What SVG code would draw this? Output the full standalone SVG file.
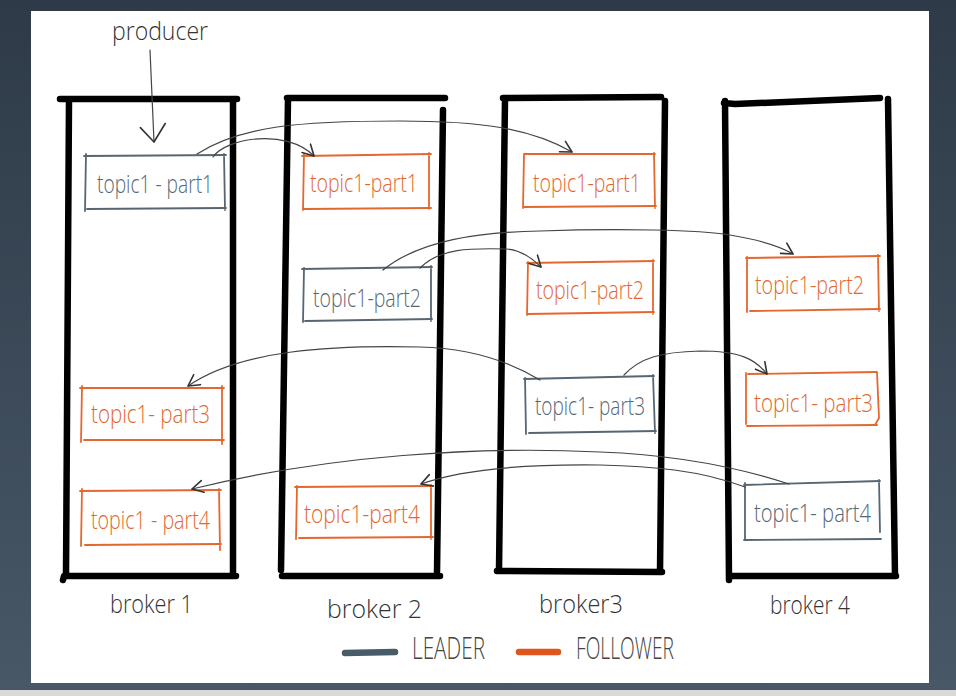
<svg xmlns="http://www.w3.org/2000/svg" width="956" height="696" viewBox="0 0 956 696">
<defs>
<linearGradient id="bg" x1="0" y1="0" x2="0" y2="1">
<stop offset="0" stop-color="#2e3a48"/>
<stop offset="1" stop-color="#485867"/>
</linearGradient>
<marker id="arr" viewBox="0 0 14 14" refX="12" refY="7" markerWidth="14" markerHeight="14" markerUnits="userSpaceOnUse" orient="auto">
<path d="M1,1 L12,7 L1,13" fill="none" stroke="#333" stroke-width="1.6" stroke-linecap="round" stroke-linejoin="round"/>
</marker>
<marker id="arrBig" viewBox="0 0 22 28" refX="20" refY="14" markerWidth="22" markerHeight="28" markerUnits="userSpaceOnUse" orient="auto">
<path d="M2,2 L20,14 L5,27" fill="none" stroke="#333" stroke-width="1.6" stroke-linecap="round" stroke-linejoin="round"/>
</marker>
<style>
.brk{fill:none;stroke:#000;stroke-width:6.5;stroke-linecap:round;stroke-linejoin:round}
.ld{fill:none;stroke:#566773;stroke-width:1.8;stroke-linecap:round}
.fl{fill:none;stroke:#e5672e;stroke-width:1.8;stroke-linecap:round}
.ldt{fill:#566773}
.flt{fill:#e2672f}
text{font-family:"Open Sans","Liberation Sans",sans-serif;font-weight:300}
.bt{font-size:25px}
.lab{font-size:25px;fill:#333}
.leg{font-size:31px;fill:#444}
.con{fill:none;stroke:#444;stroke-width:1.2;stroke-linecap:round}
</style>
</defs>
<rect x="0" y="0" width="956" height="696" fill="url(#bg)"/>
<rect x="0" y="690" width="956" height="6" fill="#d9d9d9"/>
<rect x="31" y="11" width="898" height="672" fill="#ffffff"/>

<g id="producer">
<text class="lab" x="112" y="40" textLength="96" lengthAdjust="spacingAndGlyphs">producer</text>
</g>

<g id="broker1">
<path class="brk" d="M60,99 L237,99 M69,100 L66,576 M233,101 L233,575 M63,580 L64,576 L236,576"/>
<text class="lab" x="110" y="613" textLength="83" lengthAdjust="spacingAndGlyphs">broker 1</text>
</g>
<g id="broker2">
<path class="brk" d="M287,98 L445,98 M288,99 L281,570 M443,110 L437,573 M282,576 L440,576"/>
<text class="lab" x="327" y="618" textLength="95" lengthAdjust="spacingAndGlyphs">broker 2</text>
</g>
<g id="broker3">
<path class="brk" d="M503,98 L661,97 M505,99 L499,570 M665,101 L660,572 M497,571 L662,572"/>
<text class="lab" x="539" y="613" textLength="84" lengthAdjust="spacingAndGlyphs">broker3</text>
</g>
<g id="broker4">
<path class="brk" d="M724,103 L735,104 L880,98 M725,101 L729,580 M888,99 L895,576 M729,576 L896,576"/>
<text class="lab" x="770" y="614" textLength="80" lengthAdjust="spacingAndGlyphs">broker 4</text>
</g>

<g id="b1p1">
<path class="ld" d="M84,156 L226,155 M224,154 L225,210 M226,208 L87,209 M85,211 L86,154"/>
<text class="bt ldt" x="97" y="193" textLength="116" lengthAdjust="spacingAndGlyphs">topic1 - part1</text>
</g>
<g id="b1p3">
<path class="fl" d="M80,388 L224,388 M222,386 L222,444 M224,440 L84,440 M81,442 L82,386"/>
<text class="bt flt" x="91" y="423" textLength="119" lengthAdjust="spacingAndGlyphs">topic1- part3</text>
</g>
<g id="b1p4">
<path class="fl" d="M80,491 L221,490 M219,489 L220,550 M221,544 L85,545 M81,546 L82,489"/>
<text class="bt flt" x="91" y="529" textLength="119" lengthAdjust="spacingAndGlyphs">topic1 - part4</text>
</g>

<g id="b2p1">
<path class="fl" d="M302,156 L431,154 M429,153 L429,209 M431,208 L304,209 M303,210 L304,154"/>
<text class="bt flt" x="310" y="192" textLength="108" lengthAdjust="spacingAndGlyphs">topic1-part1</text>
</g>
<g id="b2p2">
<path class="ld" d="M302,269 L432,267 M431,266 L431,321 M432,319 L305,321 M303,322 L304,268"/>
<text class="bt ldt" x="313" y="307" textLength="108" lengthAdjust="spacingAndGlyphs">topic1-part2</text>
</g>
<g id="b2p4">
<path class="fl" d="M295,487 L433,486 M431,485 L431,539 M433,537 L299,538 M296,539 L297,486"/>
<text class="bt flt" x="304" y="523" textLength="116" lengthAdjust="spacingAndGlyphs">topic1-part4</text>
</g>

<g id="b3p1">
<path class="fl" d="M524,154 L655,154 M654,153 L655,208 M656,206 L524,207 M523,208 L524,155"/>
<text class="bt flt" x="533" y="192" textLength="108" lengthAdjust="spacingAndGlyphs">topic1-part1</text>
</g>
<g id="b3p2">
<path class="fl" d="M527,263 L654,261 M653,260 L653,314 M654,312 L528,314 M527,315 L528,262"/>
<text class="bt flt" x="536" y="299" textLength="108" lengthAdjust="spacingAndGlyphs">topic1-part2</text>
</g>
<g id="b3p3">
<path class="ld" d="M524,379 L654,376 M653,375 L655,433 M656,431 L529,433 M526,434 L525,378"/>
<text class="bt ldt" x="535" y="415" textLength="110" lengthAdjust="spacingAndGlyphs">topic1- part3</text>
</g>

<g id="b4p2">
<path class="fl" d="M746,258 L880,256 M878,255 L879,311 M880,309 L750,311 M747,312 L747,257"/>
<text class="bt flt" x="755" y="294" textLength="109" lengthAdjust="spacingAndGlyphs">topic1-part2</text>
</g>
<g id="b4p3">
<path class="fl" d="M748,374 L876,372 M877,372 L879,418 L875,425 M877,425 L747,426 M746,424 L746,373"/>
<text class="bt flt" x="754" y="412" textLength="119" lengthAdjust="spacingAndGlyphs">topic1- part3</text>
</g>
<g id="b4p4">
<path class="ld" d="M744,485 L880,481 M879,480 L880,532 M881,539 L744,540 M745,539 L745,483"/>
<text class="bt ldt" x="754" y="522" textLength="117" lengthAdjust="spacingAndGlyphs">topic1- part4</text>
</g>

<g id="legend">
<line x1="345" y1="653" x2="395" y2="652" stroke="#485b68" stroke-width="6.5" stroke-linecap="round"/>
<text class="leg" x="412" y="659" textLength="73" lengthAdjust="spacingAndGlyphs">LEADER</text>
<line x1="519" y1="652" x2="558" y2="652" stroke="#e0541d" stroke-width="6.5" stroke-linecap="round"/>
<text class="leg" x="576" y="659" textLength="98" lengthAdjust="spacingAndGlyphs">FOLLOWER</text>
</g>

<g id="connectors">
<path class="con" marker-end="url(#arrBig)" d="M150,50 L154,142"/>
<path class="con" marker-end="url(#arr)" d="M213,157 C226,138 286,128 314,156"/>
<path class="con" marker-end="url(#arr)" d="M197,154 C240,126 300,121 400,121 C480,121 530,128 572,152"/>
<path class="con" marker-end="url(#arr)" d="M420,268 C440,248 470,248 507,249 C520,250 530,256 541,267"/>
<path class="con" marker-end="url(#arr)" d="M383,270 C420,240 480,232 540,231 C620,228 700,230 730,235 C760,240 780,246 793,254"/>
<path class="con" marker-end="url(#arr)" d="M540,380 C510,362 470,348 420,347 C330,345 240,350 188,386"/>
<path class="con" marker-end="url(#arr)" d="M624,375 C640,358 660,352 700,351 C740,351 755,359 767,374"/>
<path class="con" marker-end="url(#arr)" d="M789,484 C740,468 680,455 600,452 C480,446 330,455 192,489"/>
<path class="con" marker-end="url(#arr)" d="M745,487 C700,470 650,466 600,465 C520,464 460,470 421,484"/>
</g>
</svg>
